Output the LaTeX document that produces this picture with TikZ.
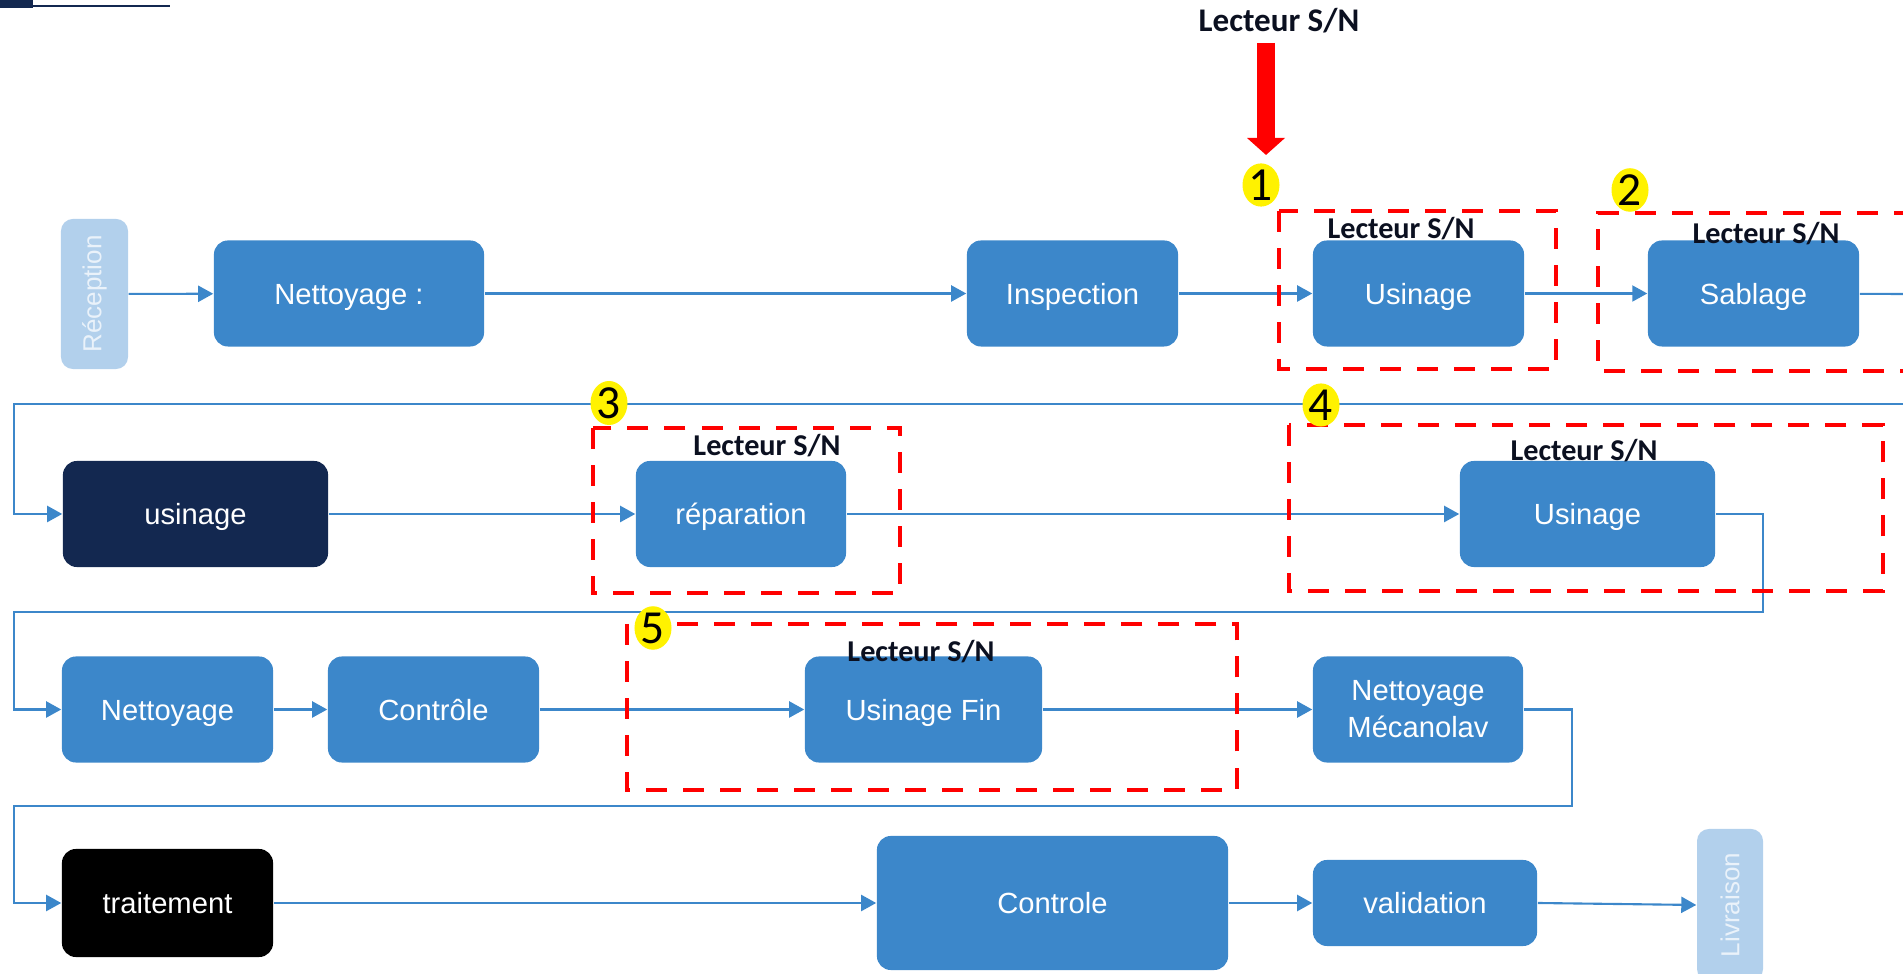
\documentclass[tikz,border=0pt]{standalone}
\usepackage{fontspec}
\setmainfont{Liberation Sans}
\newfontfamily\snfont{Carlito}
\usetikzlibrary{arrows.meta,shapes.geometric}
\definecolor{boxblue}{HTML}{3C87CA}
\definecolor{navybox}{HTML}{132850}
\definecolor{sideblue}{HTML}{B2D0EC}
\definecolor{sidetext}{HTML}{EAF2FA}
\definecolor{snblack}{HTML}{0B1020}
\begin{document}
\begin{tikzpicture}[x=0.01cm,y=-0.01cm,>={Triangle[length=0.15cm,width=0.16cm]},
    procbase/.style={rectangle,rounded corners=0.14cm,fill=boxblue,text=white,inner sep=0pt,
        align=center,minimum height=1.06cm,font=\fontsize{8.3}{10.5}\selectfont},
    proc/.style={procbase,text height=6.1pt,text depth=0pt},
    sidebox/.style={rectangle,rounded corners=0.12cm,fill=sideblue,text=sidetext,inner sep=0pt,
        rotate=90,font=\fontsize{7.4}{9}\selectfont},
    flow/.style={draw=boxblue,line width=0.6pt},
    zone/.style={draw=red,line width=0.047cm,dash pattern=on 0.21cm off 0.16cm},
    sn/.style={text=snblack,font=\snfont\bfseries\fontsize{8.6}{10}\selectfont},
    num/.style={ellipse,fill=yellow,inner sep=0pt,minimum width=0.37cm,minimum height=0.42cm,
        font=\snfont\fontsize{13.5}{14}\selectfont}]
\useasboundingbox (0,0) rectangle (1903,974);
% bandeau en haut a gauche
\fill[navybox] (0,0) rectangle (33,8);
\draw[navybox,line width=0.02cm] (33,6) -- (170,6);
% ligne 1
\node[sidebox,minimum width=1.50cm,minimum height=0.67cm] (recep) at (94.5,294) {Réception};
\node[proc,minimum width=2.70cm] (net1) at (349,293.5) {Nettoyage :};
\node[proc,minimum width=2.11cm] (insp) at (1072.5,293.5) {Inspection};
\node[proc,minimum width=2.11cm] (usi1) at (1418.5,293.5) {Usinage};
\node[proc,minimum width=2.11cm] (sab) at (1753.5,293.5) {Sablage};
% ligne 2
\node[proc,fill=navybox,minimum width=2.65cm] (usi2) at (195.5,514) {usinage};
\node[proc,minimum width=2.10cm] (rep) at (741,514) {réparation};
\node[proc,minimum width=2.55cm] (usi3) at (1587.5,514) {Usinage};
% ligne 3
\node[proc,minimum width=2.11cm] (net2) at (167.5,709.5) {Nettoyage};
\node[proc,minimum width=2.11cm] (ctl1) at (433.5,709.5) {Contrôle};
\node[proc,minimum width=2.37cm] (usifin) at (923.5,709.5) {Usinage Fin};
\node[procbase,minimum width=2.10cm] (meca) at (1418,709.5) {Nettoyage\\Mécanolav};
% ligne 4
\node[proc,fill=black,minimum width=2.11cm,minimum height=1.08cm] (trait) at (167.5,903) {traitement};
\node[proc,minimum width=3.51cm,minimum height=1.34cm] (ctl2) at (1052.5,903) {Controle};
\node[proc,minimum width=2.24cm,minimum height=0.86cm] (valid) at (1425,903) {validation};
\node[sidebox,minimum width=1.52cm,minimum height=0.66cm] (livr) at (1730,905) {Livraison};
% retours
\coordinate (out1) at (1903,294);
\coordinate (in1) at (1903,404);
\coordinate (l1) at (14,404);
\coordinate (k2) at (1763,612);
\coordinate (l2) at (14,612);
\coordinate (k3) at (1572,806);
\coordinate (l3) at (14,806);
\foreach \a/\b in {recep/net1,net1/insp,insp/usi1,usi1/sab,usi2/rep,rep/usi3,
    net2/ctl1,ctl1/usifin,usifin/meca,trait/ctl2,ctl2/valid}
{
    \draw[flow,->] (\a) -- (\b);
}
\draw[flow] (sab) -- (out1);
\draw[flow,->] (in1) -- (l1) |- (usi2.west);
\draw[flow,->] (usi3.east) -| (k2) -- (l2) |- (net2.west);
\draw[flow,->] (meca.east) -| (k3) -- (l3) |- (trait.west);
\draw[flow,->] (valid.east) -- (livr.north);
% zones Lecteur S/N
\draw[zone] (1279,211) rectangle (1556,369);
\draw[zone] (1915,213) -- (1598,213) -- (1598,371) -- (1915,371);
\draw[zone] (593,428) rectangle (900,593);
\draw[zone] (1289,425) rectangle (1883,591);
\draw[zone] (627,624) rectangle (1237,790);
\node[sn] (sn1) at (1401,229) {Lecteur S/N};
\node[sn] (sn2) at (1766,234) {Lecteur S/N};
\node[sn] (sn3) at (767,446) {Lecteur S/N};
\node[sn] (sn4) at (1584,451) {Lecteur S/N};
\node[sn] (sn5) at (921,652) {Lecteur S/N};
\node[num] (n1) at (1261,185) {1};
\node[num] (n2) at (1630,190) {2};
\node[num] (n3) at (609,403) {3};
\node[num] (n4) at (1321,405) {4};
\node[num] (n5) at (653,628) {5};
% lecteur en entree
\node[sn,font=\snfont\bfseries\fontsize{9.4}{11}\selectfont] (sntop) at (1279,21) {Lecteur S/N};
\coordinate (arrtop) at (1266,43);
\coordinate (arrtip) at (1266,155);
\draw[red,line width=0.18cm,-{Triangle[length=0.17cm,width=0.37cm]}] (arrtop) -- (arrtip);
\end{tikzpicture}
\end{document}
